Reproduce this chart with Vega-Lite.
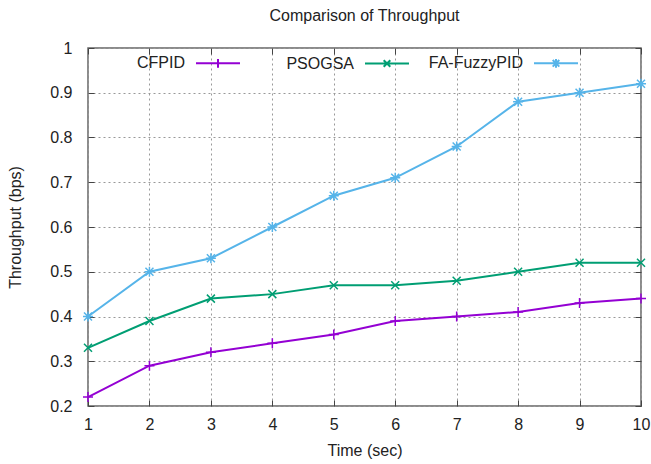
{
  "$schema": "https://vega.github.io/schema/vega-lite/v6.json",
  "width": 553,
  "height": 358,
  "autosize": {"type": "none"},
  "padding": {"left": 88, "top": 48, "right": 10, "bottom": 58},
  "background": "white",
  "title": {"text": "Comparison of Throughput", "fontSize": 16, "fontWeight": "normal", "font": "Liberation Sans", "color": "#222", "offset": 16},
  "config": {
    "font": "Liberation Sans",
    "view": {"stroke": "#666", "strokeWidth": 1.5},
    "axis": {"labelFontSize": 16, "titleFontSize": 16, "labelColor": "#222", "titleColor": "#222", "titleFontWeight": "normal", "domain": false, "tickColor": "#444", "gridColor": "#999", "gridDash": [2, 3], "gridOpacity": 1, "gridWidth": 1, "labelFlush": false}
  },
  "data": {"values": [
    {"t": 1, "s": "CFPID", "v": 0.22}, {"t": 2, "s": "CFPID", "v": 0.29}, {"t": 3, "s": "CFPID", "v": 0.32}, {"t": 4, "s": "CFPID", "v": 0.34}, {"t": 5, "s": "CFPID", "v": 0.36},
    {"t": 6, "s": "CFPID", "v": 0.39}, {"t": 7, "s": "CFPID", "v": 0.40}, {"t": 8, "s": "CFPID", "v": 0.41}, {"t": 9, "s": "CFPID", "v": 0.43}, {"t": 10, "s": "CFPID", "v": 0.44},
    {"t": 1, "s": "PSOGSA", "v": 0.33}, {"t": 2, "s": "PSOGSA", "v": 0.39}, {"t": 3, "s": "PSOGSA", "v": 0.44}, {"t": 4, "s": "PSOGSA", "v": 0.45}, {"t": 5, "s": "PSOGSA", "v": 0.47},
    {"t": 6, "s": "PSOGSA", "v": 0.47}, {"t": 7, "s": "PSOGSA", "v": 0.48}, {"t": 8, "s": "PSOGSA", "v": 0.50}, {"t": 9, "s": "PSOGSA", "v": 0.52}, {"t": 10, "s": "PSOGSA", "v": 0.52},
    {"t": 1, "s": "FA-FuzzyPID", "v": 0.40}, {"t": 2, "s": "FA-FuzzyPID", "v": 0.50}, {"t": 3, "s": "FA-FuzzyPID", "v": 0.53}, {"t": 4, "s": "FA-FuzzyPID", "v": 0.60}, {"t": 5, "s": "FA-FuzzyPID", "v": 0.67},
    {"t": 6, "s": "FA-FuzzyPID", "v": 0.71}, {"t": 7, "s": "FA-FuzzyPID", "v": 0.78}, {"t": 8, "s": "FA-FuzzyPID", "v": 0.88}, {"t": 9, "s": "FA-FuzzyPID", "v": 0.90}, {"t": 10, "s": "FA-FuzzyPID", "v": 0.92}
  ]},
  "resolve": {"axis": {"x": "independent", "y": "independent"}},
  "layer": [
    {
      "mark": {"type": "line", "strokeWidth": 2},
      "encoding": {
        "x": {"field": "t", "type": "quantitative", "scale": {"domain": [1, 10], "nice": false}, "title": "Time (sec)",
              "axis": {"values": [1,2,3,4,5,6,7,8,9,10], "tickSize": -6, "labelPadding": 16, "titlePadding": 10, "grid": true}},
        "y": {"field": "v", "type": "quantitative", "scale": {"domain": [0.2, 1], "nice": false}, "title": "Throughput (bps)",
              "axis": {"values": [0.2,0.3,0.4,0.5,0.6,0.7,0.8,0.9,1], "format": ".1~f", "tickSize": -6, "labelPadding": 22, "titlePadding": 26, "grid": true}},
        "color": {"field": "s", "type": "nominal", "sort": ["CFPID", "PSOGSA", "FA-FuzzyPID"],
                  "scale": {"domain": ["CFPID", "PSOGSA", "FA-FuzzyPID"], "range": ["#9400d3", "#009e73", "#56b4e9"]},
                  "legend": {"title": null, "orient": "none", "legendX": 107, "legendY": -8, "direction": "horizontal", "columns": 3, "gridAlign": "all",
                             "symbolSize": 1936, "symbolStrokeWidth": 2, "symbolType": "M-1,0H1", "labelFontSize": 16, "labelColor": "#222",
                             "labelAlign": "right", "labelOffset": -56, "columnPadding": 15, "symbolOffset": 0,
                             "encode": {"symbols": {"update": {"shape": {"signal": "datum.value === 'CFPID' ? 'M-1,0H1M0,-0.2V0.2' : datum.value === 'PSOGSA' ? 'M-1,0H1M-0.15,-0.15L0.15,0.15M-0.15,0.15L0.15,-0.15' : 'M-1,0H1M0,-0.2V0.2M-0.15,-0.15L0.15,0.15M-0.15,0.15L0.15,-0.15'"}}}}}}
      }
    },
    {
      "transform": [{"filter": "datum.s === 'CFPID'"}],
      "mark": {"type": "point", "filled": false, "strokeWidth": 1.5, "size": 100, "opacity": 1, "color": "#9400d3", "shape": "M-1,0H1M0,-1V1"},
      "encoding": {
        "x": {"field": "t", "type": "quantitative", "axis": {"orient": "top", "values": [1,2,3,4,5,6,7,8,9,10], "labels": false, "title": null, "tickSize": -6, "grid": false}},
        "y": {"field": "v", "type": "quantitative", "axis": {"orient": "right", "values": [0.2,0.3,0.4,0.5,0.6,0.7,0.8,0.9,1], "labels": false, "title": null, "tickSize": -6, "grid": false}}
      }
    },
    {
      "transform": [{"filter": "datum.s === 'PSOGSA'"}],
      "mark": {"type": "point", "filled": false, "strokeWidth": 1.5, "size": 100, "opacity": 1, "color": "#009e73", "shape": "M-0.8,-0.8L0.8,0.8M-0.8,0.8L0.8,-0.8"},
      "encoding": {
        "x": {"field": "t", "type": "quantitative", "axis": null},
        "y": {"field": "v", "type": "quantitative", "axis": null}
      }
    },
    {
      "transform": [{"filter": "datum.s === 'FA-FuzzyPID'"}],
      "mark": {"type": "point", "filled": false, "strokeWidth": 1.5, "size": 100, "opacity": 1, "color": "#56b4e9", "shape": "M-1,0H1M0,-1V1M-0.8,-0.8L0.8,0.8M-0.8,0.8L0.8,-0.8"},
      "encoding": {
        "x": {"field": "t", "type": "quantitative", "axis": null},
        "y": {"field": "v", "type": "quantitative", "axis": null}
      }
    }
  ]
}
